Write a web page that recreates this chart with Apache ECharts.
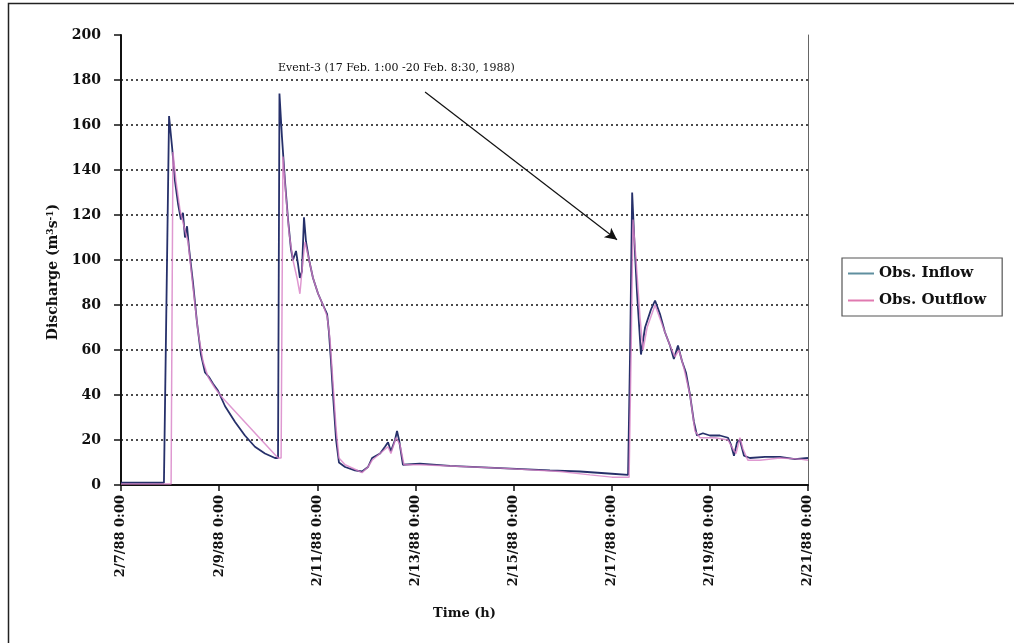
<!DOCTYPE html>
<html><head><meta charset="utf-8">
<script src="https://cdn.jsdelivr.net/npm/echarts@6/dist/echarts.min.js"></script>
<style>html,body{margin:0;padding:0;background:#fff}#c{width:1014px;height:643px}</style>
</head><body><div id="c"></div>
<script>
// Hours since 2/7/88 0:00
const tickLabels = ['2/7/88 0:00','2/9/88 0:00','2/11/88 0:00','2/13/88 0:00','2/15/88 0:00','2/17/88 0:00','2/19/88 0:00','2/21/88 0:00'];
const inflowHours = [0,21.0,23.5,25,26.4,27.9,29.3,30.3,31.3,32.3,33.3,35.2,37.2,39.1,41.1,43,45,47.4,50.9,55.8,60.6,65.5,70.4,75.3,76.8,77.5,78.7,80.2,81.7,83.1,84.1,85.6,86.6,87.5,88.5,89.5,90.5,92,93.9,96.4,98.8,100.8,101.7,102.7,103.7,105.2,106.6,109.6,114.4,117.9,120.8,122.8,126.7,129.1,130.6,132,134,135,136,137.9,146.2,160.9,185.4,209.8,224.5,240.1,248,249,250,251,252.4,254.3,256.3,259.2,261.2,263.6,266,268.5,270.4,272.4,274.4,276.3,278.3,280.2,281.7,284.6,288,292.9,296.9,298.3,299.8,301.3,302.7,304.7,307.6,315,322.3,329.6,336];
const inflowValues = [1,1,164,150,135,125,118,121,110,115,105,90,72,58,50,48,45,42,35,28,22,17,14,12,12,174,155,135,118,105,100,104,98,92,95,119,108,100,92,85,80,76,68,55,40,20,10,8,6.5,6,8,12,14,17,19,15,20,24,20,9,9.5,8.5,7.5,6.5,6,5,4.5,60,130,110,85,58,70,78,82,76,68,62,56,62,55,50,40,28,22,23,22,22,21,18,13,19,20,13,12,12.5,12.5,11.5,12];
const outflowHours = [0,24.5,25.4,26.9,28.9,30.8,32.8,35.2,37.7,40.1,42.6,46,49.4,76.8,78.3,79.2,80.7,82.2,84.1,86.1,87.5,89,90,92,93.9,96.4,98.8,100.8,102.2,103.7,105.2,106.6,109.6,114.4,117.9,120.8,122.8,126.7,130.6,132,134.5,136.4,138.4,146.2,185.4,214.7,229.4,240.1,248.5,249.5,250.4,251.9,253.8,255.3,257.3,261.2,266,268.5,270.9,272.9,275.3,278.3,280.7,283.2,290.5,296.9,299.3,300.8,302.7,304.2,306.6,312.5,322.3,332.1,336];
const outflowValues = [0.5,0.5,148,135,122,115,108,88,68,55,48,43,39,12,12,146,128,112,100,92,85,100,108,100,92,85,80,75,65,45,25,12,9,7,5.5,8,11,14,17,14,21,18,9,9,7.5,6,4.5,3.5,3.5,60,118,100,75,60,70,80,68,62,57,60,52,40,24,21,21,20,16,14,21,16,11,11,12,11.5,11];
const annotationText = 'Event-3 (17 Feb. 1:00 -20 Feb. 8:30, 1988)';
const arrowFrom = [148.7, 174.7];
const arrowTo = [242.6, 109];

const zip = (a,b)=>a.map((v,i)=>[v,b[i]]);
const serif = '"DejaVu Serif", "Liberation Serif", serif';
const chart = echarts.init(document.getElementById('c'), null, {renderer:'canvas'});
chart.setOption({
  animation:false,
  backgroundColor:'#fff',
  grid:{left:121,right:206,top:35,bottom:158},
  legend:{
    orient:'vertical', left:842, top:258, itemWidth:26, itemHeight:2, itemGap:12,
    padding:[8,16,8,6], borderColor:'#555', borderWidth:1.2,
    icon:'rect',
    textStyle:{fontFamily:serif, fontSize:15, fontWeight:'bold', color:'#111'},
    data:[{name:'Obs. Inflow', itemStyle:{color:'#5f8f9f'}},{name:'Obs. Outflow', itemStyle:{color:'#e07ab0'}}]
  },
  xAxis:{
    type:'value', min:0, max:336, interval:48,
    name:'Time (h)', nameLocation:'middle', nameGap:122,
    nameTextStyle:{fontFamily:serif, fontSize:13, fontWeight:'bold', color:'#111'},
    axisLine:{lineStyle:{color:'#111', width:2}},
    axisTick:{show:true, length:6, lineStyle:{color:'#111', width:1.5}},
    axisLabel:{rotate:90, margin:10, fontFamily:serif, fontSize:13, fontWeight:'bold', color:'#111',
      formatter:v=>tickLabels[Math.round(v/48)] || ''},
    splitLine:{show:false}
  },
  yAxis:[{
    type:'value', min:0, max:200, interval:20,
    name:'Discharge (m{sup|3}s{sup|-1})', nameLocation:'middle', nameGap:60,
    nameTextStyle:{fontFamily:serif, fontSize:14, fontWeight:'bold', color:'#111', padding:[0,24,0,0],
      rich:{sup:{fontSize:9, fontFamily:serif, fontWeight:'bold', verticalAlign:'top', padding:[0,0,6,0]}}},
    axisLine:{show:true, lineStyle:{color:'#111', width:2}},
    axisTick:{show:true, length:7, lineStyle:{color:'#111', width:1.5}},
    axisLabel:{margin:20, fontFamily:serif, fontSize:14, fontWeight:'bold', color:'#111'},
    splitLine:{show:true, showMaxLine:false, showMinLine:false, lineStyle:{color:'#111', type:[2,3], width:1.6}}
  },{
    type:'value', min:0, max:200, interval:20, position:'right',
    axisLine:{show:true, lineStyle:{color:'#666', width:1}},
    axisTick:{show:false}, axisLabel:{show:false}, splitLine:{show:false}
  }],
  series:[
    {name:'Obs. Inflow', type:'line', data:zip(inflowHours, inflowValues), showSymbol:false,
     lineStyle:{color:'#26306a', width:1.8}, itemStyle:{color:'#26306a'}, z:2},
    {name:'Obs. Outflow', type:'line', data:zip(outflowHours, outflowValues), showSymbol:false,
     lineStyle:{color:'#d77fc5', width:1.5, opacity:0.8}, itemStyle:{color:'#d77fc5'}, z:3,
     markLine:{silent:true, symbol:['none','arrow'], symbolSize:[9,12],
       lineStyle:{color:'#111', width:1.2, type:'solid'}, label:{show:false},
       data:[[{coord:arrowFrom},{coord:arrowTo}]]}}
  ],
  graphic:[
    {type:'text', left:278, top:63, style:{text:annotationText, font:'11px '+serif, fill:'#111'}},
    {type:'rect', shape:{x:8.5, y:3.5, width:1020, height:660}, style:{fill:'none', stroke:'#222', lineWidth:1.5}, silent:true}
  ]
});
</script></body></html>
